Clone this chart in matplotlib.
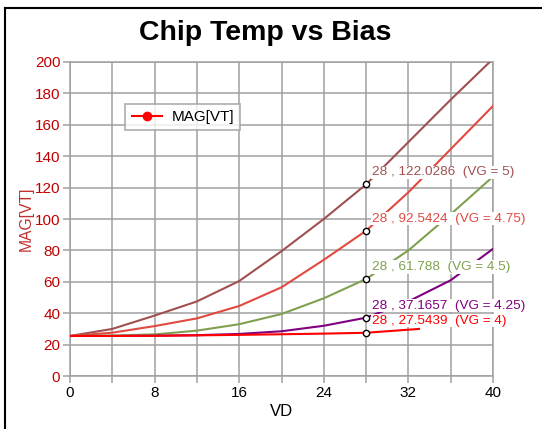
import matplotlib
matplotlib.use("Agg")
import matplotlib.pyplot as plt
from matplotlib.lines import Line2D

plt.rcParams["font.family"] = ["Liberation Sans", "DejaVu Sans"]

# VD sweep points
vd = [0, 4, 8, 12, 16, 20, 24, 28, 32, 36, 40]
vd_vg4 = [0, 4, 8, 12, 16, 20, 24, 28, 32, 33]

# MAG[VT] for each gate bias
mag_vg5 = [25.5, 30, 38.5, 47.5, 60.5, 79.5, 100, 122.0286, 149, 176, 202]
mag_vg475 = [25.5, 27.6, 31.8, 36.7, 44.6, 56.5, 74, 92.5424, 117, 144.5, 172]
mag_vg45 = [25.5, 25.8, 26.5, 28.9, 33, 39.5, 49.5, 61.788, 80, 103, 127]
mag_vg425 = [25.5, 25.5, 25.7, 26, 26.8, 28.5, 32, 37.1657, 47.5, 61, 81]
mag_vg4 = [25.5, 25.5, 25.6, 25.9, 26.2, 26.6, 27, 27.5439, 29.5, 30]

vg_labels = ["5", "4.75", "4.5", "4.25", "4"]
marker_vd = 28

series = [
    (vd, mag_vg5, "#a05050"),
    (vd, mag_vg475, "#e04a40"),
    (vd, mag_vg45, "#80a050"),
    (vd, mag_vg425, "#800080"),
    (vd_vg4, mag_vg4, "#ff0000"),
]

fig = plt.figure(figsize=(5.42, 4.29), dpi=100)
ax = fig.add_axes([0.1292, 0.1235, 0.7804, 0.732])

for (xs, ys, col), vg in zip(series, vg_labels):
    ax.plot(xs, ys, color=col, lw=1.5, zorder=3)
    i = xs.index(marker_vd)
    ax.plot(xs[i], ys[i], "o", ms=4.5, mfc="white", mec="black", mew=1.0, zorder=6)
    ax.annotate("%g , %s  (VG = %s)" % (xs[i], ys[i], vg), (xs[i], ys[i]),
                xytext=(6, 12), textcoords="offset pixels", va="center",
                ha="left", color=col, fontsize=9.7, zorder=5,
                bbox=dict(facecolor="white", edgecolor="none", pad=0.5))

ax.set_xlim(0, 40)
ax.set_ylim(0, 200)
ax.set_xticks(range(0, 41, 8))
ax.set_xticks(range(4, 41, 8), minor=True)
ax.set_yticks(range(0, 201, 20))
ax.grid(True, which="both", color="#a0a0a0", lw=1.1)
ax.set_axisbelow(True)
for s in ax.spines.values():
    s.set_color("#a0a0a0")
    s.set_linewidth(1.1)
ax.tick_params(which="both", color="#a0a0a0", length=5, width=1.1, pad=2,
               labelsize=11)
ax.tick_params(axis="y", labelcolor="#c00000")
ax.set_xlabel("VD", fontsize=12, labelpad=3)
ax.set_ylabel("MAG[VT]", fontsize=11.3, color="#c03030", labelpad=1)

handle = Line2D([], [], color="red", marker="o", ms=6, lw=1.5)
leg = ax.legend([handle], ["MAG[VT]"], loc="upper left",
                bbox_to_anchor=(0.113, 0.89), fontsize=11, frameon=True,
                fancybox=False, handlelength=2.0, borderpad=0.4,
                handletextpad=0.6)
leg.get_frame().set_edgecolor("#a0a0a0")
leg.get_frame().set_linewidth(1.3)

fig.text(0.49, 0.922, "Chip Temp vs Bias", ha="center", va="center",
         fontsize=20.5, fontweight="bold")

# window frame on top and left edges
fig.add_artist(Line2D([0.0092, 0.0092], [0, 0.981], color="black", lw=1.5,
                      transform=fig.transFigure))
fig.add_artist(Line2D([0.0092, 1], [0.981, 0.981], color="black", lw=1.5,
                      transform=fig.transFigure))

fig.savefig("out.png", dpi=100)
